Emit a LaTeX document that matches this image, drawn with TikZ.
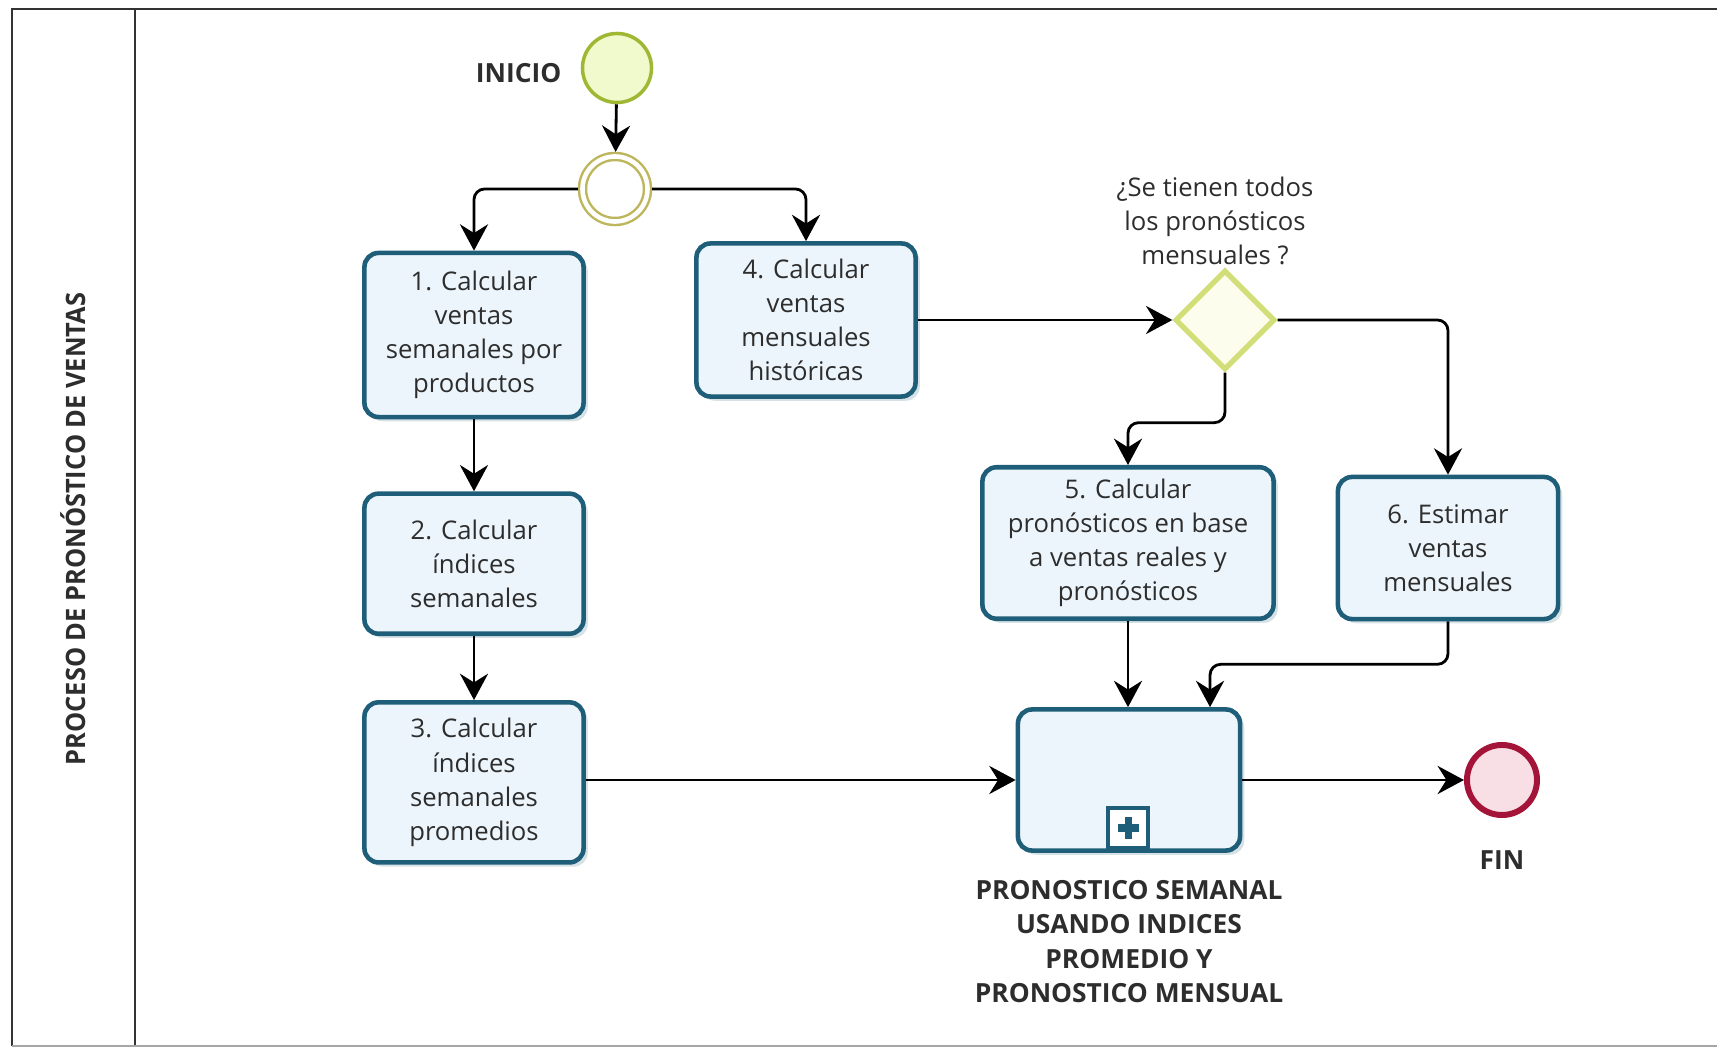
\documentclass[tikz,border=0pt]{standalone}
\usepackage{fontspec}
\setmainfont{Open Sans}
\usetikzlibrary{shapes.geometric, arrows.meta, positioning, shadows}

\definecolor{bordetarea}{RGB}{31,94,120}
\definecolor{fondotarea}{RGB}{236,245,251}
\definecolor{verdeinicio}{RGB}{158,184,52}
\definecolor{fondoinicio}{RGB}{240,250,204}
\definecolor{caqui}{RGB}{190,182,92}
\definecolor{bordedec}{RGB}{210,222,120}
\definecolor{fondodec}{RGB}{252,253,236}
\definecolor{rojofin}{RGB}{164,20,56}
\definecolor{fondofin}{RGB}{248,222,229}
\definecolor{texto}{RGB}{45,45,45}

\begin{document}
\begin{tikzpicture}[
    x=0.01cm, y=-0.01cm,
    tarea/.style={rectangle, rounded corners=4pt, draw=bordetarea, line width=1.3pt,
                  fill=fondotarea, minimum width=2.19cm, align=center, text=texto,
                  font=\fontsize{7.3}{9.7}\selectfont,
                  drop shadow={shadow xshift=1.2pt, shadow yshift=-1.2pt, opacity=0.18, fill=bordetarea}},
    inicio/.style={circle, draw=verdeinicio, line width=1pt, fill=fondoinicio, minimum size=0.69cm},
    intermedio/.style={circle, draw=caqui, line width=0.7pt, double=white, double distance=1.3pt,
                       fill=white, minimum size=0.65cm, outer sep=1.3pt},
    decision/.style={diamond, aspect=1, draw=bordedec, line width=1.5pt, fill=fondodec,
                     minimum width=1cm, minimum height=1cm, inner sep=0pt},
    fin/.style={circle, draw=rojofin, line width=1.7pt, fill=fondofin, minimum size=0.7cm},
    marcador/.style={rectangle, draw=bordetarea, line width=1.1pt, fill=white, minimum size=0.4cm,
                     inner sep=0pt,
                     path picture={\fill[bordetarea] (path picture bounding box.center) ++(-0.105cm,-0.035cm) rectangle ++(0.21cm,0.07cm);
                                   \fill[bordetarea] (path picture bounding box.center) ++(-0.035cm,-0.105cm) rectangle ++(0.07cm,0.21cm);}},
    etiqueta/.style={font=\bfseries\fontsize{7.5}{9.8}\selectfont, text=texto, align=center},
    pregunta/.style={font=\fontsize{7.3}{9.7}\selectfont, text=texto, align=center},
    flecha/.style={-{Stealth[length=7.5pt, width=8pt, inset=2.5pt]}, line width=0.8pt, rounded corners=3pt}
]
\useasboundingbox (0,0) rectangle (1717,1049);

% carril
\draw[line width=0.7pt, black!80] (1717,9) -- (12,9) -- (12,1046);
\draw[line width=0.7pt, black!80] (135,9) -- (135,1046);
\draw[line width=0.5pt, black!35] (12,1046) -- (1717,1046);
\node[font=\bfseries\fontsize{7.6}{9}\selectfont, text=texto, rotate=90] (carril) at (73,529)
    {\scalebox{0.95}[1]{PROCESO DE PRONÓSTICO DE VENTAS}};

% eventos
\node[inicio] (ini) at (617,68) {};
\node[etiqueta, left=0.07cm of ini, yshift=-0.05cm] (initxt) {INICIO};
\node[intermedio] (evento) at (615,189) {};

% tareas
\node[tarea, minimum height=1.64cm] (t1) at (474,335) {1. Calcular\\ventas\\semanales por\\productos};
\node[tarea, minimum height=1.40cm, below=0.72cm of t1] (t2) {2. Calcular\\índices\\semanales};
\node[tarea, minimum height=1.60cm, below=0.64cm of t2] (t3) {3. Calcular\\índices\\semanales\\promedios};
\node[tarea, minimum height=1.53cm] (t4) at (806,320) {4. Calcular\\ventas\\mensuales\\históricas};

\node[decision] (dec) at (1225,320) {};
\node[pregunta] (dectxt) at (1215,221) {¿Se tienen todos\\los pronósticos\\mensuales ?};

\node[tarea, minimum width=2.91cm, minimum height=1.44cm] (t5) at (1128,543)
    {5. Calcular\\pronósticos en base\\a ventas reales y\\pronósticos};
\node[tarea, minimum width=2.20cm, minimum height=1.42cm] (t6) at (1448,548)
    {6. Estimar\\ventas\\mensuales};

\node[tarea, minimum width=2.22cm, minimum height=1.41cm] (sub) at (1129,780) {};
\node[marcador] (mas) at (1128,828) {};
\node[etiqueta, below=0.15cm of sub] (subtxt)
    {PRONOSTICO SEMANAL\\USANDO INDICES\\PROMEDIO Y\\PRONOSTICO MENSUAL};

\node[fin] (fin) at (1502,780) {};
\node[etiqueta, below=0.2cm of fin] (fintxt) {FIN};

% flujos
\draw[flecha] (ini) -- (evento);
\draw[flecha] (evento.west) -| (t1);
\draw[flecha] (evento.east) -| (t4);
\draw[flecha] (t1) -- (t2);
\draw[flecha] (t2) -- (t3);
\draw[flecha] (t4.east) -- (dec.west);
\draw[flecha] (dec.south) -- ++(0,50) -| (t5);
\draw[flecha] (dec.east) -| (t6);
\draw[flecha] (t5.south) -- (t5.south |- sub.north);
\draw[flecha] (t6.south) -- ++(0,43) -| ([xshift=0.81cm]sub.north);
\draw[flecha] (sub.west -| t3.east) -- (sub.west);
\draw[flecha] (sub) -- (fin);
\end{tikzpicture}
\end{document}
